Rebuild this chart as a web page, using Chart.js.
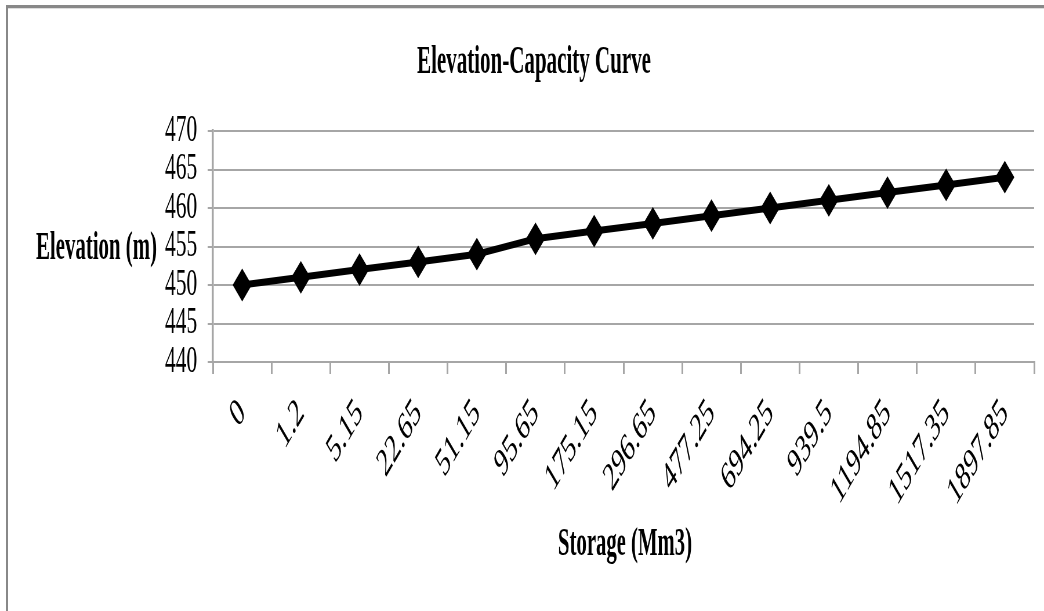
<!DOCTYPE html>
<html>
<head>
<meta charset="utf-8">
<script src="https://cdn.jsdelivr.net/npm/chart.js@4.4.1/dist/chart.umd.min.js"></script>
<style>
  html, body { margin: 0; padding: 0; background: #fff; overflow: hidden; }
  /* condensed look: the chart is drawn wide and squeezed horizontally */
  #stage { position: absolute; left: 0; top: 0; width: 1800px; height: 611px;
           transform: scaleX(0.58); transform-origin: 0 0; }
  #frame { position: absolute; left: 6px; top: 5px; width: 1100px; height: 700px;
           border-top: 3px solid #888; border-left: 2px solid #888;
           box-shadow: inset 0 1px 0 #ddd; pointer-events: none; }
</style>
</head>
<body>
<div id="stage"><canvas id="c" width="1800" height="611"></canvas></div>
<div id="frame"></div>
<script>
// Storage (Mm3) for each elevation step
const storage = ['0', '1.2', '5.15', '22.65', '51.15', '95.65', '175.15', '296.65',
                 '477.25', '694.25', '939.5', '1194.85', '1517.35', '1897.85'];
// Reservoir elevation (m)
const elevation = [450, 451, 452, 453, 454, 456, 457, 458, 459, 460, 461, 462, 463, 464];
// Elevation axis ticks
const yTicks = [440, 445, 450, 455, 460, 465, 470];

const SQUEEZE = 0.58;          // horizontal squeeze applied to the stage
const SERIF = "'Liberation Serif', 'Times New Roman', serif";
const GRID = '#a6a6a6';

Chart.defaults.font.family = SERIF;
Chart.defaults.color = '#000';

// Bold condensed headings: chart title and both axis titles.
// cx / base / span are in page pixels; span is the drawn width of the text.
const headings = {
  id: 'headings',
  afterDraw(chart) {
    const { ctx } = chart;
    const items = [
      { text: 'Elevation-Capacity Curve', cx: 534, base: 73, span: 234 },
      { text: 'Elevation (m)', cx: 96.5, base: 259, span: 121 },
      { text: 'Storage (Mm3)', cx: 625, base: 555, span: 134 }
    ];
    ctx.save();
    ctx.font = 'bold 39px ' + SERIF;
    ctx.fillStyle = '#000';
    ctx.textAlign = 'center';
    ctx.textBaseline = 'alphabetic';
    for (const it of items) {
      const w = ctx.measureText(it.text).width;
      const k = (it.span / SQUEEZE) / w;
      ctx.save();
      ctx.translate(it.cx / SQUEEZE, it.base);
      ctx.scale(k, 1);
      ctx.fillText(it.text, 0, 0);
      ctx.restore();
    }
    ctx.restore();
  }
};

new Chart(document.getElementById('c'), {
  type: 'line',
  data: {
    labels: storage,
    datasets: [{
      label: 'Elevation',
      data: elevation,
      borderColor: '#000',
      borderWidth: 7,
      tension: 0,
      pointStyle: 'rectRot',
      pointRadius: 15,
      pointBackgroundColor: '#000',
      pointBorderColor: '#000',
      pointBorderWidth: 2
    }]
  },
  options: {
    responsive: false,
    animation: false,
    layout: { padding: { left: 0, right: 17, top: 131, bottom: 0 } },
    plugins: {
      legend: { display: false },
      tooltip: { enabled: false },
      title: { display: false }
    },
    scales: {
      x: {
        type: 'category',
        offset: true,
        grid: { display: true, drawOnChartArea: false, drawTicks: true, tickLength: 12,
                offset: true, color: GRID, lineWidth: 3 },
        border: { color: GRID, width: 2 },
        ticks: { minRotation: 45, maxRotation: 45, autoSkip: false, padding: 16,
                 color: '#000', font: { size: 40 } },
        afterFit(scale) { scale.height = 249; }
      },
      y: {
        min: yTicks[0],
        max: yTicks[yTicks.length - 1],
        afterBuildTicks(scale) { scale.ticks = yTicks.map(v => ({ value: v })); },
        grid: { color: GRID, lineWidth: 2, tickLength: 9, drawTicks: true },
        border: { color: GRID, width: 3.5 },
        ticks: { autoSkip: false, padding: 18, color: '#000', font: { size: 37 } },
        afterFit(scale) { scale.width = 367; }
      }
    }
  },
  plugins: [headings]
});
</script>
</body>
</html>
